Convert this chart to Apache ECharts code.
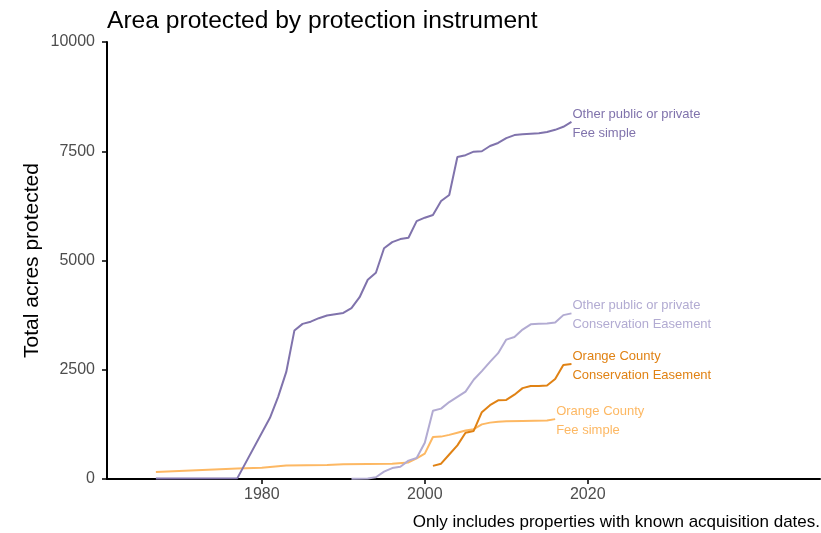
<!DOCTYPE html>
<html>
<head>
<meta charset="utf-8">
<script src="https://cdn.jsdelivr.net/npm/echarts@6/dist/echarts.min.js"></script>
<style>
  html, body { margin: 0; padding: 0; background: #fff; }
  #chart { width: 821px; height: 533px; }
</style>
</head>
<body>
<div id="chart"></div>
<script>
// Cumulative acres protected, by acquisition year
const otherFeeYears = [1967, 1977, 1981, 1982, 1983, 1984, 1985, 1986, 1987, 1988, 1989, 1990, 1991, 1992, 1993, 1994, 1995, 1996, 1997, 1998, 1999, 2000, 2001, 2002, 2003, 2004, 2005, 2006, 2007, 2008, 2009, 2010, 2011, 2012, 2013, 2014, 2015, 2016, 2017, 2018];
const otherFeeAcres = [10, 20, 1400, 1880, 2450, 3400, 3550, 3600, 3680, 3740, 3770, 3800, 3910, 4160, 4560, 4720, 5280, 5420, 5490, 5520, 5900, 5980, 6040, 6360, 6500, 7370, 7410, 7490, 7500, 7620, 7690, 7800, 7870, 7890, 7900, 7910, 7940, 7990, 8060, 8170];

const otherEasementYears = [1991, 1993, 1994, 1995, 1996, 1997, 1998, 1999, 2000, 2001, 2002, 2003, 2004, 2005, 2006, 2007, 2008, 2009, 2010, 2011, 2012, 2013, 2014, 2015, 2016, 2017, 2018];
const otherEasementAcres = [5, 10, 40, 170, 250, 280, 420, 480, 830, 1560, 1610, 1760, 1880, 2000, 2270, 2470, 2680, 2880, 3190, 3250, 3420, 3540, 3550, 3560, 3580, 3750, 3790];

const countyEasementYears = [2001, 2002, 2003, 2004, 2005, 2006, 2007, 2008, 2009, 2010, 2011, 2012, 2013, 2014, 2015, 2016, 2017, 2018];
const countyEasementAcres = [300, 350, 560, 770, 1060, 1100, 1530, 1690, 1800, 1810, 1930, 2080, 2130, 2130, 2140, 2290, 2610, 2630];

const countyFeeYears = [1967, 1977, 1980, 1983, 1988, 1990, 1996, 1998, 1999, 2000, 2001, 2002, 2003, 2004, 2005, 2006, 2007, 2008, 2009, 2010, 2012, 2015, 2016];
const countyFeeAcres = [160, 240, 260, 310, 320, 340, 350, 380, 470, 580, 960, 970, 1010, 1060, 1110, 1140, 1250, 1290, 1310, 1320, 1330, 1340, 1370];

const yearTicks = [1980, 2000, 2020];

const FONT = "'Liberation Sans', Arial, sans-serif";
const pairs = (xs, ys) => xs.map((x, i) => [x, ys[i]]);

function lineSeries(name, xs, ys, color, labelText) {
  return {
    name: name,
    type: 'line',
    data: pairs(xs, ys),
    showSymbol: false,
    symbol: 'none',
    lineStyle: { color: color, width: 2 },
    itemStyle: { color: color },
    emphasis: { disabled: true },
    endLabel: {
      show: true,
      formatter: labelText,
      color: color,
      fontFamily: FONT,
      fontSize: 13,
      lineHeight: 19,
      distance: 1,
      offset: [0, 2],
      align: 'left'
    }
  };
}

const chart = echarts.init(document.getElementById('chart'), null, { renderer: 'canvas' });
chart.setOption({
  animation: false,
  backgroundColor: '#ffffff',
  title: {
    text: 'Area protected by protection instrument',
    left: 102,
    top: 4,
    textStyle: { color: '#000', fontFamily: FONT, fontSize: 24.6, fontWeight: 'normal' }
  },
  grid: { left: 107, right: 1, top: 42, bottom: 54 },
  xAxis: {
    type: 'value',
    min: 1961,
    max: 2048.5,
    axisLine: { show: true, lineStyle: { color: '#000', width: 2 } },
    axisTick: { show: true, customValues: yearTicks, length: 5, lineStyle: { color: '#000', width: 1.5 } },
    axisLabel: { customValues: yearTicks, color: '#4d4d4d', fontFamily: FONT, fontSize: 16, margin: 8, formatter: v => String(v) },
    splitLine: { show: false }
  },
  yAxis: {
    type: 'value',
    min: 0,
    max: 10000,
    interval: 2500,
    name: 'Total acres protected',
    nameLocation: 'middle',
    nameRotate: 90,
    nameGap: 64,
    nameMoveOverlap: false,
    nameTextStyle: { color: '#000', fontFamily: FONT, fontSize: 21 },
    axisLine: { show: true, lineStyle: { color: '#000', width: 2 } },
    axisTick: { show: true, length: 5, lineStyle: { color: '#000', width: 1.5 } },
    axisLabel: { color: '#4d4d4d', fontFamily: FONT, fontSize: 16, margin: 12, formatter: v => String(v) },
    splitLine: { show: false }
  },
  graphic: [{
    type: 'text',
    right: 1,
    bottom: 2,
    style: {
      text: 'Only includes properties with known acquisition dates.',
      fill: '#000',
      font: '17px ' + FONT
    }
  }],
  series: [
    lineSeries('Orange County Fee simple', countyFeeYears, countyFeeAcres, '#fdb863', 'Orange County\nFee simple'),
    lineSeries('Orange County Conservation Easement', countyEasementYears, countyEasementAcres, '#e08214', 'Orange County\nConservation Easement'),
    lineSeries('Other public or private Conservation Easement', otherEasementYears, otherEasementAcres, '#b2abd2', 'Other public or private\nConservation Easement'),
    lineSeries('Other public or private Fee simple', otherFeeYears, otherFeeAcres, '#8073ac', 'Other public or private\nFee simple')
  ]
});
</script>
</body>
</html>
